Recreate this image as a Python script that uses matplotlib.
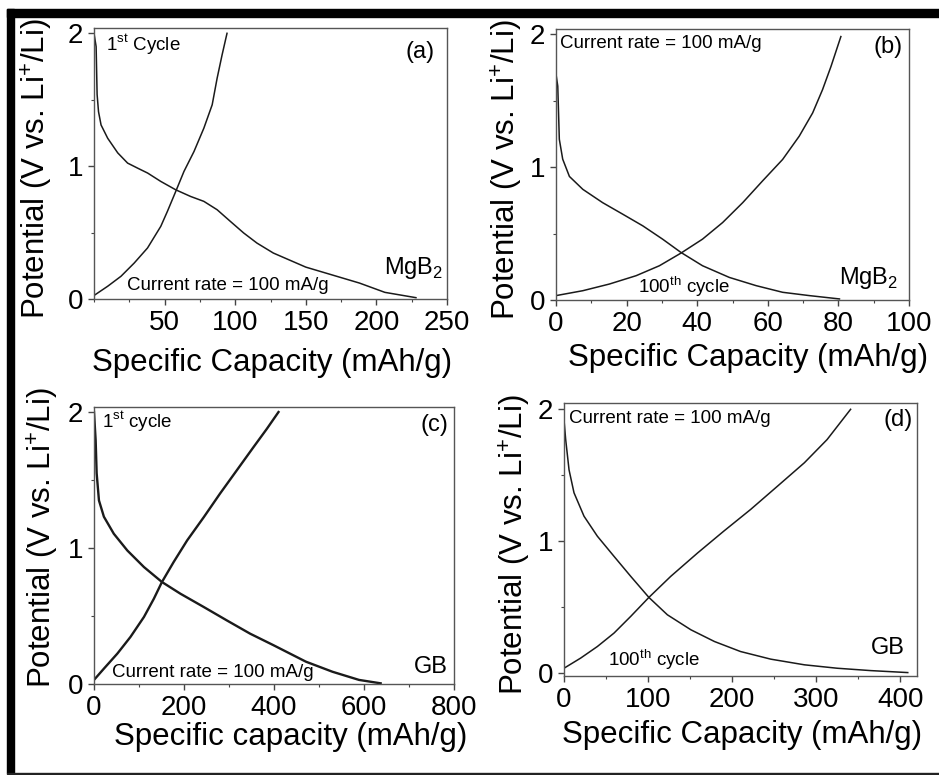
import matplotlib
matplotlib.use("Agg")
import matplotlib.pyplot as plt
from matplotlib.patches import Rectangle

plt.rcParams['font.family'] = ['Liberation Sans', 'DejaVu Sans']

# (a) MgB2, 1st cycle
a_dis_x = [0, 1.5, 2.2, 3.2, 5, 9.7, 16.8, 23.8, 30.9, 38, 47.3, 57.9, 68.4, 77.8, 87.2, 96.6,
           106, 115.4, 127, 150, 169, 188, 206, 228]
a_dis_v = [2.0, 1.9, 1.54, 1.41, 1.31, 1.21, 1.10, 1.023, 0.985, 0.948, 0.885, 0.822, 0.772,
           0.735, 0.672, 0.584, 0.497, 0.421, 0.346, 0.24, 0.18, 0.12, 0.05, 0.01]
a_chg_x = [0.5, 9.7, 19.1, 28.5, 37.9, 47.3, 52, 57.9, 63.7, 70.8, 77.8, 83.7, 87.2, 90.7, 94.2]
a_chg_v = [0.03, 0.096, 0.171, 0.271, 0.384, 0.547, 0.66, 0.81, 0.96, 1.11, 1.286, 1.462,
           1.662, 1.837, 2.0]

# (b) MgB2, 100th cycle
b_dis_x = [0, 0.5, 0.94, 1.9, 3.8, 7.6, 13.2, 18.9, 24.6, 30.2, 35.4, 41.5, 49.1, 56.7, 64.2,
           71.8, 80.3]
b_dis_v = [1.7, 1.61, 1.21, 1.06, 0.93, 0.833, 0.733, 0.646, 0.558, 0.458, 0.358, 0.258, 0.17,
           0.108, 0.058, 0.033, 0.008]
b_chg_x = [0, 7.6, 15.1, 22.7, 29.3, 35.4, 41.5, 47.2, 52.9, 58.5, 64.2, 68.9, 72.7, 75.5,
           77.9, 80.7]
b_chg_v = [0.033, 0.07, 0.12, 0.183, 0.258, 0.353, 0.458, 0.583, 0.733, 0.896, 1.058, 1.233,
           1.408, 1.583, 1.758, 1.983]

# (c) GB, 1st cycle
c_dis_x = [0, 3.7, 5.9, 11, 22, 44, 74, 111, 151, 192, 244, 295, 347, 399, 443, 471, 530,
           589, 637]
c_dis_v = [2.0, 1.79, 1.55, 1.35, 1.23, 1.105, 0.982, 0.86, 0.75, 0.664, 0.566, 0.468, 0.37,
           0.285, 0.211, 0.164, 0.09, 0.03, 0.005]
c_chg_x = [0, 22, 52, 81, 111, 133, 151, 177, 207, 244, 280, 317, 354, 384, 410]
c_chg_v = [0.03, 0.113, 0.224, 0.346, 0.493, 0.627, 0.75, 0.897, 1.056, 1.227, 1.4, 1.57,
           1.74, 1.876, 2.0]

# (d) GB, 100th cycle
d_dis_x = [0, 2, 6, 11.9, 23.8, 39.7, 59.5, 79.4, 101, 123, 151, 179, 210, 246, 286, 325,
           365, 409]
d_dis_v = [1.92, 1.77, 1.54, 1.366, 1.188, 1.036, 0.883, 0.731, 0.571, 0.439, 0.325, 0.236,
           0.16, 0.102, 0.059, 0.033, 0.015, 0.0]
d_chg_x = [0, 19.8, 39.7, 59.5, 79.4, 101, 127, 159, 190, 222, 254, 286, 313, 341]
d_chg_v = [0.033, 0.11, 0.198, 0.3, 0.427, 0.571, 0.731, 0.909, 1.074, 1.239, 1.416, 1.594,
           1.77, 2.0]

W, H = 939, 775
fig = plt.figure(figsize=(W / 100, H / 100), dpi=100)


def px_axes(left, top, right, bottom):
    return fig.add_axes([left / W, (H - bottom) / H, (right - left) / W, (bottom - top) / H])


panels = [
    dict(box=(94, 28, 447, 299), curves=[(a_dis_x, a_dis_v), (a_chg_x, a_chg_v)],
         xlim=(0, 250), ylim=(0, 2.04), xt=[50, 100, 150, 200, 250], xm=25,
         xlabel="Specific Capacity (mAh/g)", ylc=(-0.161, 0.48), xlc=(0.504, -0.236), lw=1.1,
         texts=[(0.034, 0.937, r"1$^{\mathregular{st}}$ Cycle", 'left', 13.5),
                (0.966, 0.911, "(a)", 'right', 17),
                (0.989, 0.115, r"MgB$_{\mathregular{2}}$", 'right', 17),
                (0.093, 0.048, "Current rate = 100 mA/g", 'left', 13.5)]),
    dict(box=(556, 29, 909, 300), curves=[(b_dis_x, b_dis_v), (b_chg_x, b_chg_v)],
         xlim=(0, 100), ylim=(0, 2.04), xt=[0, 20, 40, 60, 80, 100], xm=10,
         xlabel="Specific Capacity (mAh/g)", ylc=(-0.139, 0.48), xlc=(0.544, -0.214), lw=1.1,
         texts=[(0.011, 0.948, "Current rate = 100 mA/g", 'left', 13.5),
                (0.983, 0.934, "(b)", 'right', 17),
                (0.969, 0.08, r"MgB$_{\mathregular{2}}$", 'right', 17),
                (0.232, 0.048, r"100$^{\mathregular{th}}$ cycle", 'left', 13.5)]),
    dict(box=(94, 407, 454, 684), curves=[(c_dis_x, c_dis_v), (c_chg_x, c_chg_v)],
         xlim=(0, 800), ylim=(0, 2.037), xt=[0, 200, 400, 600, 800], xm=100,
         xlabel="Specific capacity (mAh/g)", ylc=(-0.142, 0.527), xlc=(0.547, -0.19), lw=1.7,
         texts=[(0.022, 0.946, r"1$^{\mathregular{st}}$ cycle", 'left', 13.5),
                (0.984, 0.935, "(c)", 'right', 17),
                (0.984, 0.061, "GB", 'right', 17),
                (0.05, 0.043, "Current rate = 100 mA/g", 'left', 13.5)]),
    dict(box=(564, 403, 917, 676), curves=[(d_dis_x, d_dis_v), (d_chg_x, d_chg_v)],
         xlim=(0, 420), ylim=(-0.026, 2.048), xt=[0, 100, 200, 300, 400], xm=50,
         xlabel="Specific Capacity (mAh/g)", ylc=(-0.139, 0.48), xlc=(0.504, -0.216), lw=1.1,
         texts=[(0.014, 0.945, "Current rate = 100 mA/g", 'left', 13.5),
                (0.989, 0.938, "(d)", 'right', 17),
                (0.966, 0.103, "GB", 'right', 17),
                (0.125, 0.059, r"100$^{\mathregular{th}}$ cycle", 'left', 13.5)]),
]

for p in panels:
    ax = px_axes(*p['box'])
    for xs, vs in p['curves']:
        ax.plot(xs, vs, color='#1a1a1a', lw=p['lw'], solid_joinstyle='round')
    ax.set_xlim(*p['xlim'])
    ax.set_ylim(*p['ylim'])
    ax.set_xticks(p['xt'])
    ax.set_xticks([v for v in range(0, int(p['xlim'][1]) + 1, p['xm']) if v not in p['xt']], minor=True)
    ax.set_yticks([0, 1, 2])
    ax.set_yticks([0.5, 1.5], minor=True)
    ax.tick_params(which='major', direction='out', length=4, width=1, labelsize=20, pad=4, color='#444444')
    ax.tick_params(which='minor', direction='out', length=2.5, width=0.8, color='#444444')
    for s in ax.spines.values():
        s.set_color('#555555')
        s.set_linewidth(1.0)
    ax.set_xlabel(p['xlabel'], fontsize=22.5)
    ax.set_ylabel(r"Potential (V vs. Li$^{\mathregular{+}}$/Li)", fontsize=22.5)
    ax.yaxis.set_label_coords(*p['ylc'])
    ax.xaxis.set_label_coords(*p['xlc'])
    ax.xaxis.label.set_va('center')
    ax.yaxis.label.set_va('center')
    for tx, ty, s, ha, fs in p['texts']:
        ax.text(tx, ty, s, transform=ax.transAxes, ha=ha, va='center', fontsize=fs)

# outer black frame (left and top thick, bottom thin)
fig.patches.append(Rectangle((7 / W, (H - 773) / H), 7 / W, (773 - 9) / H,
                             transform=fig.transFigure, color='black', zorder=10))
fig.patches.append(Rectangle((7 / W, (H - 17) / H), (W - 7) / W, 8 / H,
                             transform=fig.transFigure, color='black', zorder=10))
fig.patches.append(Rectangle((7 / W, (H - 774) / H), (W - 7) / W, 1.5 / H,
                             transform=fig.transFigure, color='#222222', zorder=10))

fig.savefig("out.png", dpi=100)
